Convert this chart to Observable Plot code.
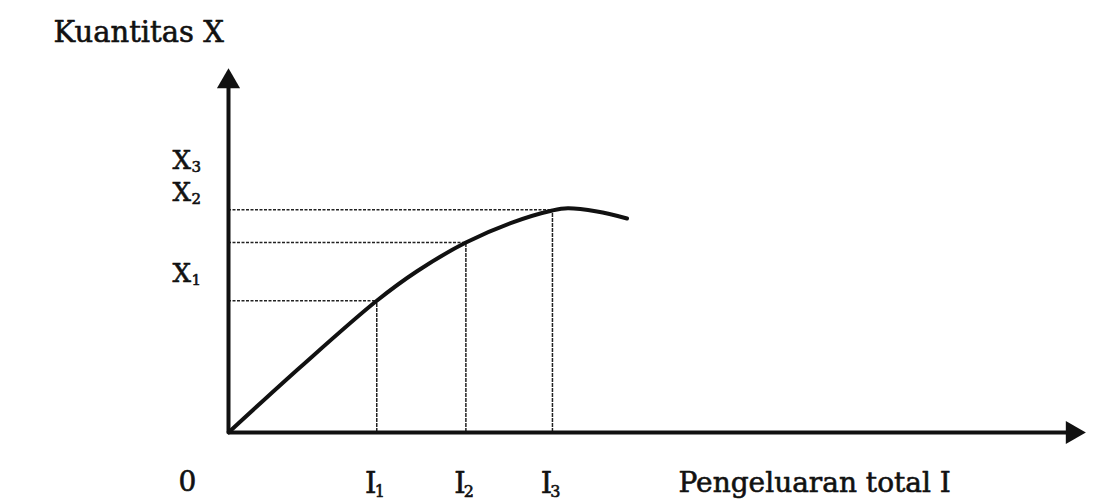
<!DOCTYPE html>
<html><head><meta charset="utf-8">
<script src="https://cdn.jsdelivr.net/npm/d3@7"></script>
<script src="https://cdn.jsdelivr.net/npm/@observablehq/plot@0.6"></script>
<style>body{margin:0;background:#fff}#chart svg{display:block}</style>
</head><body><div id="chart"></div>
<script>
// Engel curve: quantity of X against total expenditure I
const incomeNames = ["I", "I", "I"];
const incomeSubs = ["1", "2", "3"];
const incomeLevels = [1.73, 2.77, 3.78];
const quantityLevels = [3.62, 5.22, 6.12];
const curveIncome = [0, 0.84, 1.73, 2.2, 2.77, 3.3, 3.78, 3.96, 4.3, 4.65];
const curveQuantity = [0, 1.8, 3.62, 4.43, 5.22, 5.76, 6.1, 6.16, 6.07, 5.88];
const yLabelNames = ["X", "X", "X"];
const yLabelSubs = ["1", "2", "3"];
const yLabelLevels = [4.37, 6.59, 7.47];
const xTitle = "Pengeluaran total I";
const yTitle = "Kuantitas X";
const originLabel = "0";

const curve = curveIncome.map((x, i) => ({x, y: curveQuantity[i]}));
const guides = incomeLevels.map((x, i) => ({x, y: quantityLevels[i]}));
const incomeTicks = incomeLevels.map((x, i) => ({x, name: incomeNames[i], sub: incomeSubs[i]}));
const yTicks = yLabelLevels.map((y, i) => ({y, name: yLabelNames[i], sub: yLabelSubs[i]}));

const font = "'DejaVu Serif', 'Liberation Serif', serif";
const ink = "#111";
const txt = {fill: ink, stroke: ink, strokeWidth: 0.6};

const chart = Plot.plot({
  width: 1109,
  height: 501,
  marginTop: 68,
  marginBottom: 69,
  marginLeft: 228,
  marginRight: 24,
  style: {fontFamily: font, background: "#fff", overflow: "visible"},
  x: {domain: [0, 10], axis: null},
  y: {domain: [0, 10], axis: null},
  marks: [
    // dotted guides
    Plot.ruleY(guides, {y: "y", x1: 0, x2: "x", stroke: "#222", strokeWidth: 1.5, strokeDasharray: "3,1.5"}),
    Plot.ruleX(guides, {x: "x", y1: 0, y2: "y", stroke: "#222", strokeWidth: 1.5, strokeDasharray: "4,1"}),
    // axes
    Plot.ruleX([0], {y1: 0, y2: 9.6, stroke: ink, strokeWidth: 4}),
    Plot.ruleY([0], {x1: 0, x2: 9.8, stroke: ink, strokeWidth: 4}),
    Plot.dot([{x: 0, y: 10}], {x: "x", y: "y", symbol: "triangle", r: 8.6, fill: ink, stroke: "none", dy: 13}),
    Plot.dot([{x: 10, y: 0}], {x: "x", y: "y", symbol: "triangle", r: 8.6, fill: ink, stroke: "none", rotate: 90, dx: -13}),
    // curve
    Plot.line(curve, {x: "x", y: "y", curve: "catmull-rom", stroke: ink, strokeWidth: 4, strokeLinecap: "round"}),
    // y labels
    Plot.text(yTicks, {x: 0, y: "y", text: "name", dx: -56, textAnchor: "start", fontSize: 26, ...txt}),
    Plot.text(yTicks, {x: 0, y: "y", text: "sub", dx: -37, dy: 7, textAnchor: "start", fontSize: 15, ...txt}),
    // x labels
    Plot.text(incomeTicks, {x: "x", y: 0, text: "name", dy: 51, dx: -6, fontSize: 29, ...txt}),
    Plot.text(incomeTicks, {x: "x", y: 0, text: "sub", dy: 59, dx: 3, fontSize: 16, ...txt}),
    Plot.text([originLabel], {x: 0, y: 0, text: d => d, dx: -41, dy: 50, fontSize: 28, ...txt}),
    Plot.text([xTitle], {x: 0, y: 0, text: d => d, dx: 450, dy: 51, textAnchor: "start", fontSize: 28, ...txt}),
    Plot.text([yTitle], {x: 0, y: 10, text: d => d, dx: -175, dy: -36, textAnchor: "start", fontSize: 29, ...txt})
  ]
});
document.getElementById("chart").appendChild(chart);
</script>
</body></html>
